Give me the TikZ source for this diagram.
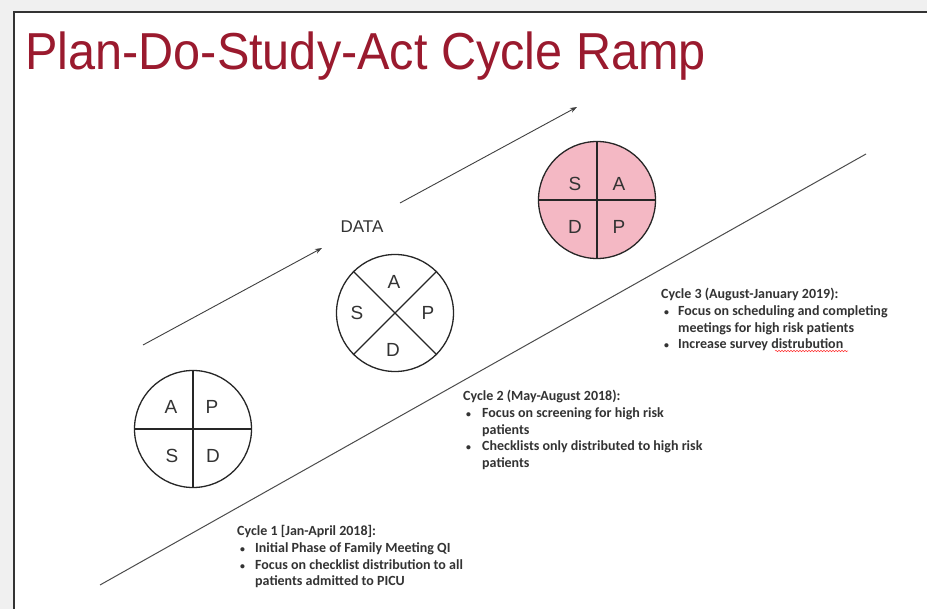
\documentclass[tikz,border=0pt]{standalone}
\usepackage{fontspec}
\setmainfont{Liberation Sans}
\newfontfamily\notefont{Carlito}
\usetikzlibrary{arrows.meta,decorations.pathmorphing}
\definecolor{titlered}{HTML}{9A1A2E}
\definecolor{pdsapink}{HTML}{F4B8C4}
\definecolor{ink}{HTML}{333333}
\newcommand{\blt}{\hspace{3pt}\scalebox{0.7}{\textbullet}}

\begin{document}
\begin{tikzpicture}[x=1pt,y=-1pt,
    pdsa/.style={circle,draw=black!85,line width=1.3pt,minimum size=117pt,inner sep=0pt},
    split/.style={draw=black!85,line width=1.3pt},
    letter/.style={text=ink,font=\fontsize{19}{19}\selectfont},
    ramp/.style={-{Stealth[length=7pt,width=5pt]},draw=black!75,line width=0.9pt},
    note/.style={anchor=north west,inner sep=0pt,text=ink,font=\notefont\bfseries\fontsize{14}{16.7}\selectfont}]
    \useasboundingbox (0,0) rectangle (927,609);
    \fill[black!6] (0,0) rectangle (927,609);
    \fill[white] (14,12) rectangle (927,609);
    \draw[black!80,line width=2.5pt] (14,609) -- (14,12) -- (927,12);

    \node[anchor=base west,inner sep=0pt,text=titlered,font=\fontsize{52}{52}\selectfont] (title) at (25,70) {\scalebox{0.935}[1]{Plan-Do-Study-Act Cycle Ramp}};

    % the ramp
    \coordinate (r0) at (100,585);
    \coordinate (r1) at (866,154);
    \draw[black!70,line width=1pt] (r0) -- (r1);

    % cycle 1
    \node[pdsa] (c1) at (193,429) {};
    \draw[split] (c1.north) -- (c1.south) (c1.west) -- (c1.east);
    \node[letter] (c1a) at (171,407) {A};
    \node[letter] (c1p) at (212,407) {P};
    \node[letter] (c1s) at (172,456) {S};
    \node[letter] (c1d) at (213,456) {D};

    % cycle 2
    \node[pdsa] (c2) at (395,313) {};
    \draw[split] (c2.north west) -- (c2.south east) (c2.south west) -- (c2.north east);
    \node[letter] (c2a) at (394,282) {A};
    \node[letter] (c2s) at (357,313) {S};
    \node[letter] (c2p) at (428,313) {P};
    \node[letter] (c2d) at (393,350) {D};

    % cycle 3
    \node[pdsa,fill=pdsapink] (c3) at (597,200) {};
    \draw[split] (c3.north) -- (c3.south) (c3.west) -- (c3.east);
    \node[letter] (c3s) at (575,184) {S};
    \node[letter] (c3a) at (619,184) {A};
    \node[letter] (c3d) at (575,227) {D};
    \node[letter] (c3p) at (619,227) {P};

    \node[text=ink,font=\fontsize{17}{17}\selectfont] (data) at (362,227) {DATA};
    \coordinate (a0) at (143,345);
    \coordinate (a1) at (322,248);
    \coordinate (b0) at (400,203);
    \coordinate (b1) at (577,107);
    \draw[ramp] (a0) -- (a1);
    \draw[ramp] (b0) -- (b1);

    \node[note] (n1) at (237,524) {%
      \begin{tabular}{@{}p{18pt}@{}l@{}}
        \multicolumn{2}{@{}l@{}}{Cycle 1 [Jan-April 2018]:}\\
        \blt & Initial Phase of Family Meeting QI\\
        \blt & Focus on checklist distribution to all\\
        & patients admitted to PICU
      \end{tabular}};
    \node[note] (n2) at (463,389) {%
      \begin{tabular}{@{}p{19pt}@{}l@{}}
        \multicolumn{2}{@{}l@{}}{Cycle 2 (May-August 2018):}\\
        \blt & Focus on screening for high risk\\
        & patients\\
        \blt & Checklists only distributed to high risk\\
        & patients
      \end{tabular}};
    \node[note] (n3) at (661,287) {%
      \begin{tabular}{@{}p{17pt}@{}l@{}}
        \multicolumn{2}{@{}l@{}}{Cycle 3 (August-January 2019):}\\
        \blt & Focus on scheduling and completing\\
        & meetings for high risk patients\\
        \blt & Increase survey distrubution
      \end{tabular}};
    \draw[red!80,line width=0.5pt,decorate,decoration={snake,amplitude=0.7pt,segment length=3pt}] (775,351) -- (848,351);
\end{tikzpicture}
\end{document}
